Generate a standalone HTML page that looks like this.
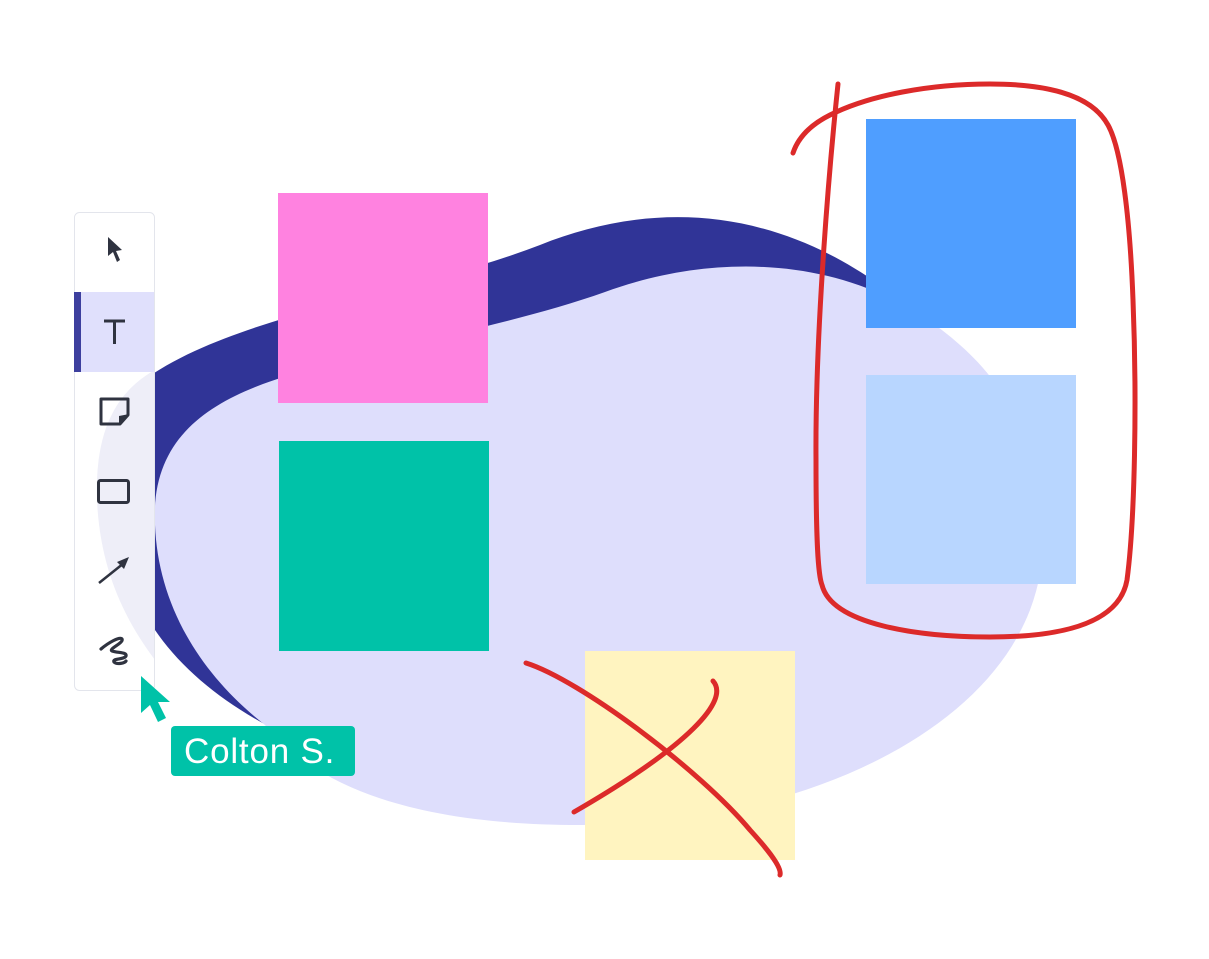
<!DOCTYPE html>
<html><head><style>
html,body{margin:0;padding:0;background:#fff;}
body{width:1209px;height:959px;position:relative;overflow:hidden;font-family:"Liberation Sans",sans-serif;}
</style></head><body>
<svg width="1209" height="959" viewBox="0 0 1209 959" style="position:absolute;left:0;top:0">
<path d="M120,400 C170,350 260,325 330,305 C420,282 480,268 540,245 C640,205 760,200 880,285 L900,320 L700,700 L270,727 C200,690 150,640 130,580 Z" fill="#303497"/>
<path d="M155,525 C150,430 220,395 300,372 C420,340 520,322 605,292 C720,250 860,255 960,345 C1040,415 1062,525 1030,610 C980,740 790,825 580,825 C420,825 320,790 265,725 C195,670 158,600 155,525 Z" fill="#dedefc"/>
<rect x="278" y="193" width="210" height="210" fill="#ff82e0"/>
<rect x="279" y="441" width="210" height="210" fill="#00c2a8"/>
<rect x="866" y="119" width="210" height="209" fill="#4f9eff"/>
<rect x="866" y="375" width="210" height="209" fill="#b8d6ff"/>
<rect x="585" y="651" width="210" height="209" fill="#fff4c0"/>
<rect x="74.5" y="212.5" width="80" height="478" rx="5" fill="#fff" stroke="#e3e5ec"/>
<clipPath id="tb"><rect x="75" y="213" width="79" height="477" rx="5"/></clipPath>
<path d="M155,370 C110,395 95,440 97,500 C100,570 125,620 155,660 Z" fill="#eeeef8" clip-path="url(#tb)"/>
<rect x="75" y="292" width="79" height="80" fill="#e0e0fc"/>
<rect x="74" y="292" width="7" height="80" fill="#3d3f9e"/>
<path d="M108,237 L108,256 L113,252 L117,262 L120,260 L116,251 L122,250 Z" fill="#2f3340"/>
<path d="M104,321 H125 M114.5,321 V344" stroke="#2f3340" stroke-width="3" fill="none"/>
<path d="M101,399 H128 V415 L120,424 H101 Z" fill="none" stroke="#2f3340" stroke-width="3" stroke-linejoin="round"/>
<path d="M129,414 L119,425 L119,416 Z" fill="#2f3340"/>
<rect x="98.5" y="480.5" width="30" height="22" rx="2" fill="none" stroke="#2f3340" stroke-width="3"/>
<path d="M99,583 L124,563" stroke="#2f3340" stroke-width="2.5"/>
<path d="M129,557 L117,562 L124,569 Z" fill="#2f3340"/>
<path d="M101,649 C108,643 120,636 122,639 C124,643 108,649 112,651 C118,653 127,652 126,656 C124,660 112,658 114,662 C117,665 125,663 126,661" fill="none" stroke="#2f3340" stroke-width="3.2" stroke-linecap="round" stroke-linejoin="round"/>
<g fill="none" stroke="#dc2a2a" stroke-width="5" stroke-linecap="round">
<path d="M838,84 C830,160 815,330 816,460 C816,540 818,575 822,585 C832,625 920,637 990,637 C1070,637 1120,620 1127,580 C1135,520 1137,400 1133,300 C1130,220 1122,150 1108,125 C1090,92 1040,84 990,84 C930,84 870,95 830,115 C810,125 798,138 793,153"/>
<path d="M526,663 C580,680 700,770 750,830 C770,852 782,868 780,875"/>
<path d="M713,681 C730,700 690,745 574,812"/>
</g>
<path d="M141,676 L141,713 L150,705 L158,722 L166,718 L158,702 L170,702 Z" fill="#00c2a8"/>
<rect x="171" y="726" width="184" height="50" rx="4" fill="#00c2a8"/>
<text x="184" y="763" font-family="Liberation Sans, sans-serif" font-size="35" letter-spacing="0.8" fill="#fff">Colton S.</text>
</svg>
</body></html>
